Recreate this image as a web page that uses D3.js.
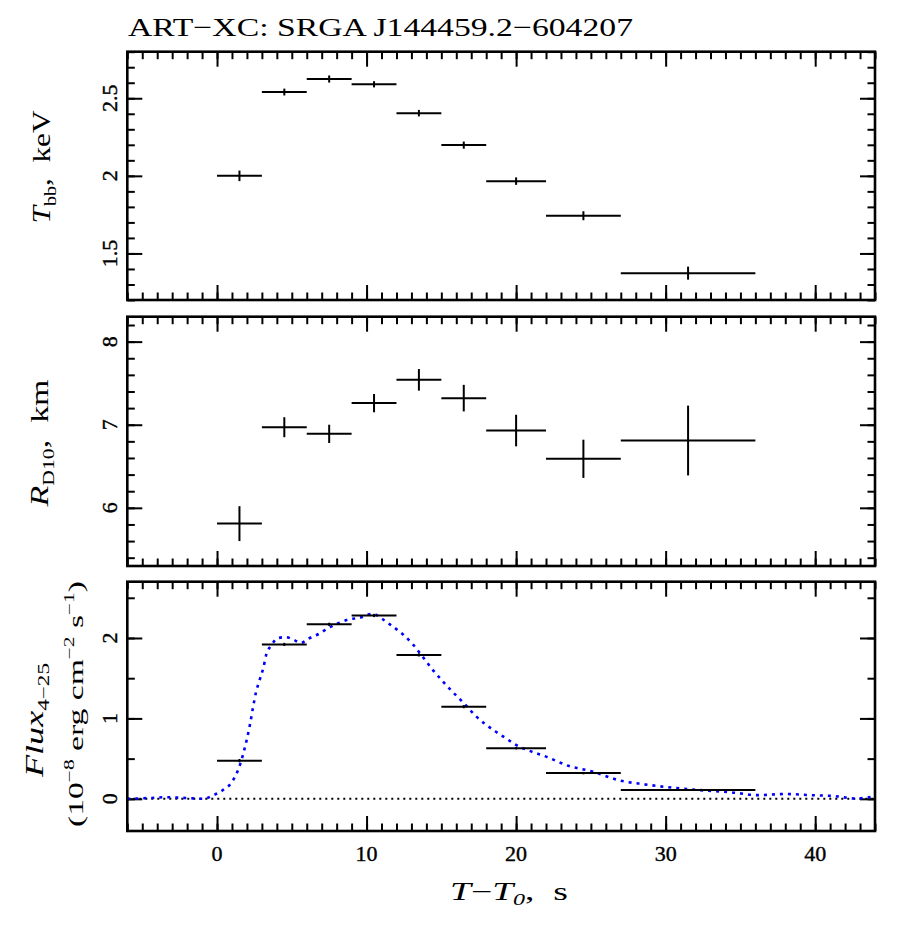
<!DOCTYPE html>
<html>
<head>
<meta charset="utf-8">
<script src="https://cdn.jsdelivr.net/npm/d3@7"></script>
<style>
  body { margin: 0; background: #fff; }
  svg { display: block; }
  .axis path.domain { display: none; }
  .axis line { stroke: #000; stroke-width: 2; }
  text { font-family: "Liberation Serif", "DejaVu Serif", serif; fill: #000; }
  .ticklab { stroke: #000; stroke-width: 0.4; }
</style>
</head>
<body>
<div id="chart"></div>
<script>
// ------ DATA ------

// time bins of the spectral fits (s)
const binStart = [0, 3, 6, 9, 12, 15, 18, 22, 27];
const binEnd   = [3, 6, 9, 12, 15, 18, 22, 27, 36];
const binMid   = [1.5, 4.5, 7.5, 10.5, 13.5, 16.5, 20, 24.5, 31.5];

// blackbody temperature, keV
const tbbValues = [2.00, 2.54, 2.624, 2.59, 2.404, 2.198, 1.966, 1.743, 1.373];
const tbbErrors = [0.034, 0.022, 0.023, 0.02, 0.021, 0.023, 0.024, 0.029, 0.042];

// blackbody radius at 10 kpc, km
const radiusValues = [5.81, 6.97, 6.89, 7.26, 7.54, 7.32, 6.93, 6.59, 6.81];
const radiusErrors = [0.21, 0.12, 0.11, 0.11, 0.13, 0.16, 0.19, 0.23, 0.42];

// flux 4-25 keV, 1e-8 erg/cm2/s
const fluxValues = [0.475, 1.92, 2.17, 2.28, 1.79, 1.146, 0.63, 0.32, 0.11];
const fluxErrors = [0.02, 0.02, 0.02, 0.02, 0.02, 0.02, 0.015, 0.015, 0.01];

// light curve (scaled count rate), blue dotted
const lcTime = [-6, -4.5, -3.4, -2, -0.9, -0.3, 0.4, 1.0, 1.6, 1.85, 2.2, 2.4, 2.6, 2.85, 3.1, 3.3,
  3.6, 4.1, 4.6, 5.1, 5.6, 6.2, 6.8, 7.5, 8.2, 8.8, 9.5, 10.4, 11.1, 11.7, 12.4, 13.1, 13.7, 14.4,
  15.1, 15.7, 16.5, 17.3, 18.0, 18.6, 19.3, 20.0, 21.0, 22.0, 23.5, 25.1, 26.9, 28.6, 30.4, 32.2,
  34.4, 36.2, 38.0, 39.7, 41.5, 42.6, 44];
const lcFlux = [0.0, 0.01, 0.02, 0.01, 0.0, 0.04, 0.11, 0.21, 0.46, 0.63, 0.92, 1.13, 1.32, 1.48, 1.63, 1.80,
  1.90, 2.0, 2.01, 1.98, 1.94, 2.0, 2.05, 2.13, 2.19, 2.23, 2.25, 2.30, 2.23, 2.15, 2.05, 1.92, 1.78, 1.61,
  1.46, 1.34, 1.19, 1.03, 0.92, 0.84, 0.755, 0.67, 0.59, 0.525, 0.41, 0.34, 0.23, 0.18, 0.14, 0.11,
  0.08, 0.046, 0.06, 0.046, 0.03, 0.005, 0.03];

// tick labels
const xTickLabels = [0, 10, 20, 30, 40];
const tbbTickLabels = [1.5, 2, 2.5];
const radiusTickLabels = [6, 7, 8];
const fluxTickLabels = [0, 1, 2];

// ------ LAYOUT ------

const W = 903, H = 940;
const left = 127.3, right = 875;

const panels = [
  { top: 51.7, bottom: 300, domain: [1.2, 2.8], major: tbbTickLabels, minorStep: 0.1,
    values: tbbValues, errors: tbbErrors },
  { top: 316.7, bottom: 566, domain: [5.3, 8.3], major: radiusTickLabels, minorStep: 0.2,
    values: radiusValues, errors: radiusErrors },
  { top: 581.7, bottom: 831, domain: [-0.4, 2.7], major: fluxTickLabels, minorStep: 0.5,
    values: fluxValues, errors: fluxErrors }
];

const svg = d3.select("#chart").append("svg")
  .attr("width", W).attr("height", H);

const x = d3.scaleLinear().domain([-6, 44]).range([left, right]);
const xMinor = d3.range(-6, 45, 1);

function stepRange(domain, step){
  // minor tick positions inside the y domain
  const n0 = Math.ceil(domain[0] / step - 1e-6), n1 = Math.floor(domain[1] / step + 1e-6);
  return d3.range(n0, n1 + 1).map(i => +(i * step).toFixed(4));
}

function drawPanel(p, idx){
  const y = d3.scaleLinear().domain(p.domain).range([p.bottom, p.top]);
  const g = svg.append("g");

  // ticks (all inward), minor then major
  const yMinor = stepRange(p.domain, p.minorStep);
  const tickSets = [
    [d3.axisBottom(x).tickValues(xMinor).tickSize(-7.5), `translate(0,${p.bottom})`],
    [d3.axisBottom(x).tickValues(xTickLabels).tickSize(-15), `translate(0,${p.bottom})`],
    [d3.axisTop(x).tickValues(xMinor).tickSize(-7.5), `translate(0,${p.top})`],
    [d3.axisTop(x).tickValues(xTickLabels).tickSize(-15), `translate(0,${p.top})`],
    [d3.axisLeft(y).tickValues(yMinor).tickSize(-7.5), `translate(${left},0)`],
    [d3.axisLeft(y).tickValues(p.major).tickSize(-15), `translate(${left},0)`],
    [d3.axisRight(y).tickValues(yMinor).tickSize(-7.5), `translate(${right},0)`],
    [d3.axisRight(y).tickValues(p.major).tickSize(-15), `translate(${right},0)`]
  ];
  tickSets.forEach(([ax, tr]) => {
    g.append("g").attr("class", "axis").attr("transform", tr)
      .call(ax.tickFormat(""))
      .selectAll("text").remove();
  });

  // y tick labels, rotated
  g.selectAll(".ylab").data(p.major).join("text")
    .attr("class", "ticklab")
    .attr("transform", d => `translate(117,${y(d)}) rotate(-90)`)
    .attr("text-anchor", "middle")
    .style("font-size", "22px")
    .text(d => d);

  // zero line and light curve in the flux panel
  if (idx === 2) {
    g.append("line")
      .attr("x1", left).attr("x2", right)
      .attr("y1", y(0)).attr("y2", y(0))
      .attr("stroke", "#000").attr("stroke-width", 2)
      .attr("stroke-dasharray", "2,4");

    g.append("path")
      .datum(d3.zip(lcTime, lcFlux))
      .attr("fill", "none")
      .attr("stroke", "#0000ff")
      .attr("stroke-width", 2.6)
      .attr("stroke-dasharray", "3,5")
      .attr("d", d3.line()
        .x(d => x(d[0]))
        .y(d => y(d[1]))
        .curve(d3.curveMonotoneX));
  }

  // error crosses
  const pts = d3.range(binMid.length);
  g.selectAll(".hbar").data(pts).join("line")
    .attr("x1", i => x(binStart[i])).attr("x2", i => x(binEnd[i]))
    .attr("y1", i => y(p.values[i])).attr("y2", i => y(p.values[i]))
    .attr("stroke", "#000").attr("stroke-width", 2);
  g.selectAll(".vbar").data(pts).join("line")
    .attr("x1", i => x(binMid[i])).attr("x2", i => x(binMid[i]))
    .attr("y1", i => y(p.values[i] - p.errors[i])).attr("y2", i => y(p.values[i] + p.errors[i]))
    .attr("stroke", "#000").attr("stroke-width", 2);

  // frame
  g.append("rect")
    .attr("x", left).attr("y", p.top)
    .attr("width", right - left).attr("height", p.bottom - p.top)
    .attr("fill", "none").attr("stroke", "#000").attr("stroke-width", 2.6);

  return y;
}

panels.forEach(drawPanel);

// ------ TEXT ------

// x tick labels on the bottom panel
svg.selectAll(".xlab").data(xTickLabels).join("text")
  .attr("class", "ticklab")
  .attr("x", d => x(d)).attr("y", 861)
  .attr("text-anchor", "middle")
  .style("font-size", "22px")
  .text(d => d);

// title
svg.append("text")
  .attr("x", 128).attr("y", 36)
  .attr("textLength", 505).attr("lengthAdjust", "spacingAndGlyphs")
  .style("font-size", "26px")
  .text("ART\u2212XC: SRGA J144459.2\u2212604207");

// x axis label
const xl = svg.append("text")
  .attr("x", 450).attr("y", 900)
  .attr("textLength", 118).attr("lengthAdjust", "spacingAndGlyphs")
  .style("font-size", "25px");
xl.append("tspan").style("font-style", "italic").text("T");
xl.append("tspan").text("\u2212");
xl.append("tspan").style("font-style", "italic").text("T");
xl.append("tspan").style("font-style", "italic").style("font-size", "16px").attr("dy", 5).text("0");
xl.append("tspan").attr("dy", -5).text(",\u00a0\u00a0s");

// y axis labels (rotated)
function yLabel(cx, cy, len, parts){
  const t = svg.append("text")
    .attr("transform", `translate(${cx},${cy}) rotate(-90)`)
    .attr("text-anchor", "middle")
    .attr("textLength", len).attr("lengthAdjust", "spacingAndGlyphs")
    .style("font-size", "25px");
  parts.forEach(pt => {
    const s = t.append("tspan").text(pt.t);
    if (pt.it) s.style("font-style", "italic");
    if (pt.fs) s.style("font-size", pt.fs + "px");
    if (pt.dy) s.attr("dy", pt.dy);
  });
}

yLabel(50, 167, 113, [
  { t: "T", it: true },
  { t: "bb", fs: 16, dy: 6 },
  { t: ",\u00a0\u00a0keV", dy: -6 }
]);

yLabel(48, 443, 127, [
  { t: "R", it: true },
  { t: "D10", fs: 16, dy: 6 },
  { t: ",\u00a0\u00a0km", dy: -6 }
]);

yLabel(43, 720, 114, [
  { t: "Flux", it: true },
  { t: "4\u221225", fs: 16, dy: 6 }
]);

yLabel(83, 704, 246, [
  { t: "(10", fs: 22 },
  { t: "\u22128", fs: 14, dy: -9 },
  { t: "\u00a0erg cm", fs: 22, dy: 9 },
  { t: "\u22122", fs: 14, dy: -9 },
  { t: "\u00a0s", fs: 22, dy: 9 },
  { t: "\u22121", fs: 14, dy: -9 },
  { t: ")", fs: 22, dy: 9 }
]);
</script>
</body>
</html>
